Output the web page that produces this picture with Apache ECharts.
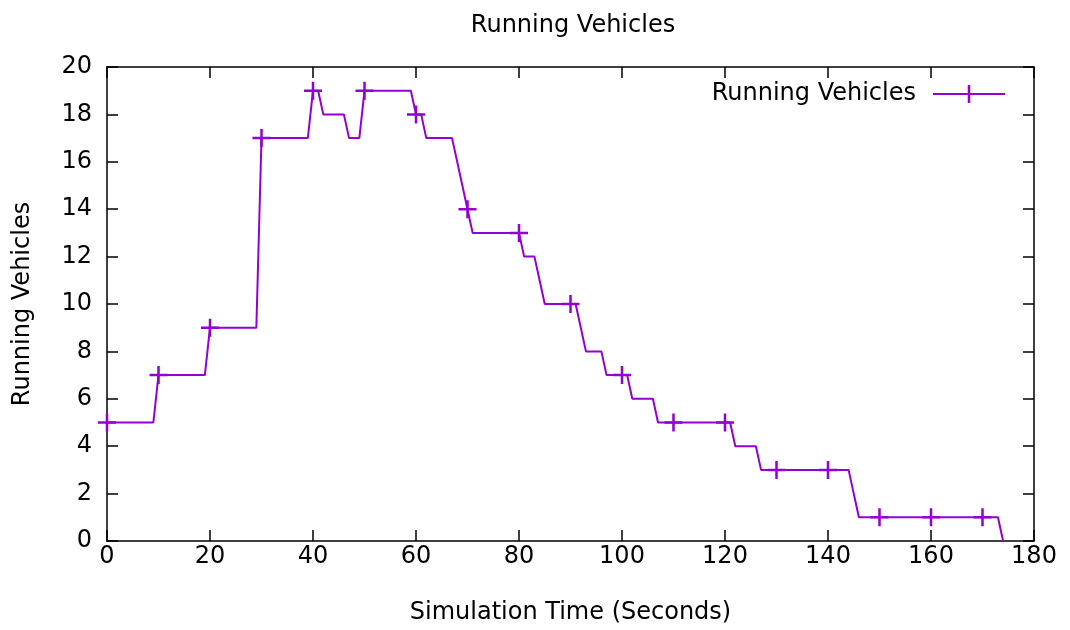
<!DOCTYPE html>
<html>
<head>
<meta charset="utf-8">
<script src="https://cdn.jsdelivr.net/npm/echarts@6/dist/echarts.min.js"></script>
<style>
html,body{margin:0;padding:0;background:#fff;}
#chart{width:1070px;height:630px;}
</style>
</head>
<body>
<div id="chart"></div>
<script>
// Simulation time of the first sample (seconds)
const startTime = 0;
// Running vehicles, one sample per second (t = 0 .. 174)
const runningVehicles = [
  5,5,5,5,5,5,5,5,5,5,          // 0-9
  7,7,7,7,7,7,7,7,7,7,          // 10-19
  9,9,9,9,9,9,9,9,9,9,          // 20-29
  17,17,17,17,17,17,17,17,17,17,// 30-39
  19,19,18,18,18,18,18,17,17,17,// 40-49
  19,19,19,19,19,19,19,19,19,19,// 50-59
  18,18,17,17,17,17,17,17,16,15,// 60-69
  14,13,13,13,13,13,13,13,13,13,// 70-79
  13,12,12,12,11,10,10,10,10,10,// 80-89
  10,10,9,8,8,8,8,7,7,7,        // 90-99
  7,7,6,6,6,6,6,5,5,5,          // 100-109
  5,5,5,5,5,5,5,5,5,5,          // 110-119
  5,5,4,4,4,4,4,3,3,3,          // 120-129
  3,3,3,3,3,3,3,3,3,3,          // 130-139
  3,3,3,3,3,2,1,1,1,1,          // 140-149
  1,1,1,1,1,1,1,1,1,1,          // 150-159
  1,1,1,1,1,1,1,1,1,1,          // 160-169
  1,1,1,1,0                     // 170-174
];
const xTicks = [0,20,40,60,80,100,120,140,160,180];
const yTicks = [0,2,4,6,8,10,12,14,16,18,20];
const seriesName = 'Running Vehicles';
const titleText = 'Running Vehicles';
const xName = 'Simulation Time (Seconds)';
const yName = 'Running Vehicles';

const seriesData = runningVehicles.map((v, i) => [startTime + i, v]);
const color = '#9400d3';
const font = 'DejaVu Sans';
const plus = 'path://M0,7.75H18V10.25H0Z M7.75,0H10.25V18H7.75Z';
const legendIcon = 'path://M0,8H72V10H0Z M34.75,0H37.25V18H34.75Z';

const chart = echarts.init(document.getElementById('chart'), null, {renderer: 'canvas'});
function axisCommon() {
  return {
    axisLine: {show: true, onZero: false, lineStyle: {color: '#000', width: 1.5}},
    axisTick: {show: true, inside: true, length: 11, lineStyle: {color: '#000', width: 1.5}},
    splitLine: {show: false}
  };
}
chart.setOption({
  animation: false,
  textStyle: {fontFamily: font, color: '#000'},
  title: {
    text: titleText, left: 568, top: 9, textAlign: 'center',
    textStyle: {fontFamily: font, fontSize: 24, fontWeight: 'normal', color: '#000'}
  },
  legend: {
    right: 60, top: 77, align: 'right',
    itemWidth: 72, itemHeight: 18,
    textStyle: {fontFamily: font, fontSize: 24, color: '#000', padding: [0, 12, 0, 0]},
    data: [{name: seriesName, icon: legendIcon}]
  },
  grid: {left: 107, right: 36, top: 67, bottom: 87, containLabel: false},
  xAxis: [
    Object.assign(axisCommon(), {
      type: 'value', position: 'bottom', min: xTicks[0], max: xTicks[xTicks.length-1], interval: xTicks[1]-xTicks[0],
      name: xName, nameLocation: 'middle', nameGap: 60,
      nameTextStyle: {fontFamily: font, fontSize: 24, color: '#000'},
      axisLabel: {fontFamily: font, fontSize: 24, color: '#000', margin: 4}
    }),
    Object.assign(axisCommon(), {
      type: 'value', position: 'top', min: xTicks[0], max: xTicks[xTicks.length-1], interval: xTicks[1]-xTicks[0],
      axisLabel: {show: false}
    })
  ],
  yAxis: [
    Object.assign(axisCommon(), {
      type: 'value', position: 'left', min: yTicks[0], max: yTicks[yTicks.length-1], interval: yTicks[1]-yTicks[0],
      name: yName, nameLocation: 'middle', nameGap: 72,
      nameTextStyle: {fontFamily: font, fontSize: 24, color: '#000'},
      axisLabel: {fontFamily: font, fontSize: 24, color: '#000', margin: 15}
    }),
    Object.assign(axisCommon(), {
      type: 'value', position: 'right', min: yTicks[0], max: yTicks[yTicks.length-1], interval: yTicks[1]-yTicks[0],
      axisLabel: {show: false}
    })
  ],
  series: [{
    name: seriesName,
    type: 'line',
    data: seriesData,
    showAllSymbol: true,
    symbol: function (value, params) { return params.dataIndex % 10 === 0 ? plus : 'none'; },
    symbolSize: 18,
    clip: false,
    lineStyle: {color: color, width: 2},
    itemStyle: {color: color, borderWidth: 0},
    emphasis: {disabled: true}
  }]
});
</script>
</body>
</html>
